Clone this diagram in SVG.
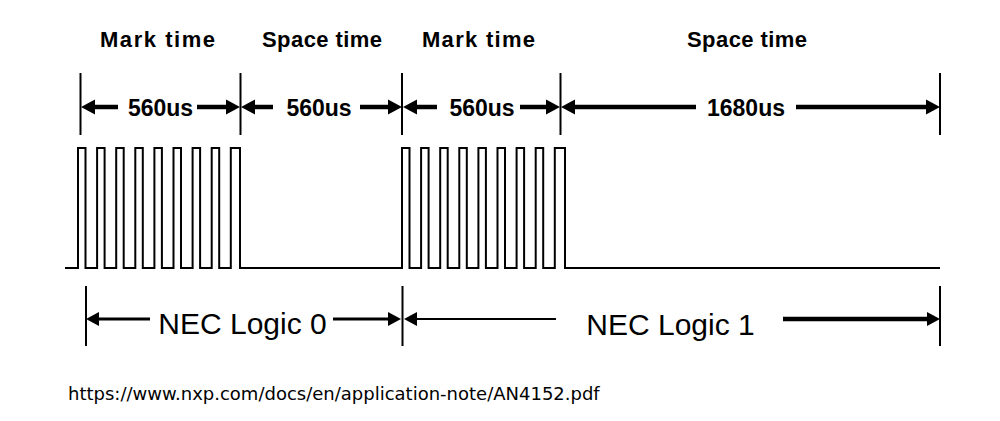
<svg xmlns="http://www.w3.org/2000/svg" width="1000" height="421" viewBox="0 0 1000 421">
<defs>
<style>
.hdr{font-family:"Liberation Sans",Arial,sans-serif;font-weight:bold;font-size:22px;fill:#000;text-anchor:middle}
.dur{font-family:"Liberation Sans",Arial,sans-serif;font-weight:bold;font-size:23px;fill:#000;text-anchor:middle}
.nec{font-family:"Liberation Sans",Arial,sans-serif;font-size:30px;fill:#000;text-anchor:middle}
.url{font-family:"DejaVu Sans",sans-serif;font-size:18px;fill:#000}
.tick{stroke:#000;stroke-width:2;fill:none}
.wave{stroke:#000;stroke-width:2;fill:none;stroke-linejoin:miter}
.aT{stroke:#000;stroke-width:4.5;fill:none;marker-end:url(#ahT)}
.aB{stroke:#000;stroke-width:3;fill:none;marker-end:url(#ahB)}
</style>
<marker id="ahT" markerUnits="userSpaceOnUse" markerWidth="16" markerHeight="18" refX="0" refY="8" orient="auto">
<path d="M0,0.5 L14,8 L0,15.5 z" fill="#000"/>
</marker>
<marker id="ahB" markerUnits="userSpaceOnUse" markerWidth="15" markerHeight="16" refX="0" refY="7" orient="auto">
<path d="M0,0 L13,7 L0,14 z" fill="#000"/>
</marker>
</defs>
<rect width="1000" height="421" fill="#fff"/>

<g id="headers">
<text class="hdr" x="157.5" y="47" textLength="115" lengthAdjust="spacing">Mark time</text>
<text class="hdr" x="322" y="47" textLength="120" lengthAdjust="spacing">Space time</text>
<text class="hdr" x="478.5" y="47" textLength="113" lengthAdjust="spacing">Mark time</text>
<text class="hdr" x="747" y="47" textLength="120" lengthAdjust="spacing">Space time</text>
</g>

<g id="ticks-top">
<line class="tick" x1="80.5" y1="73" x2="80.5" y2="135"/>
<line class="tick" x1="240.5" y1="73" x2="240.5" y2="135"/>
<line class="tick" x1="402" y1="73" x2="402" y2="135"/>
<line class="tick" x1="560.5" y1="73" x2="560.5" y2="135"/>
<line class="tick" x1="940" y1="73" x2="940" y2="135"/>
</g>

<g id="durations">
<text class="dur" x="160.5" y="116">560us</text>
<text class="dur" x="319" y="116">560us</text>
<text class="dur" x="482" y="116">560us</text>
<text class="dur" x="746" y="116">1680us</text>
</g>

<g id="connectors">
<path class="aT" d="M118,107 H95"/>
<path class="aT" d="M197,107 H226"/>
<path class="aT" d="M273,107 H255"/>
<path class="aT" d="M360,107 H388"/>
<path class="aT" d="M437,107 H417"/>
<path class="aT" d="M520,107 H546"/>
<path class="aT" d="M696,107 H575"/>
<path class="aT" d="M796,107 H926"/>
<path class="aB" d="M150,319 H99"/>
<path class="aB" d="M333,319 H388"/>
<path class="aB" d="M556,319 H417" style="stroke-width:2"/>
<path class="aB" d="M783,319 H927" style="stroke-width:4.5"/>
</g>

<g id="waveform">
<path class="wave" d="M65,268 H78 V148 H85.5 V268 H97.1 V148 H104.6 V268 H116.2 V148 H123.7 V268 H135.3 V148 H142.8 V268 H154.4 V148 H161.9 V268 H173.5 V148 H181 V268 H192.6 V148 H200.1 V268 H211.7 V148 H219.2 V268 H230.8 V148 H240 V268 H402 V148 H409.5 V268 H421.1 V148 H428.6 V268 H440.2 V148 H447.7 V268 H459.3 V148 H466.8 V268 H478.4 V148 H485.9 V268 H497.5 V148 H505 V268 H516.6 V148 H524.1 V268 H535.7 V148 H543.2 V268 H554.8 V148 H565 V268 H940"/>
</g>

<g id="ticks-bottom">
<line class="tick" x1="86" y1="286" x2="86" y2="346"/>
<line class="tick" x1="402.5" y1="286" x2="402.5" y2="346"/>
<line class="tick" x1="940" y1="286" x2="940" y2="346"/>
</g>

<g id="nec0"><text class="nec" x="242.5" y="334">NEC Logic 0</text></g>
<g id="nec1"><text class="nec" x="670.5" y="335">NEC Logic 1</text></g>

<g id="source"><text class="url" x="68" y="400">https://www.nxp.com/docs/en/application-note/AN4152.pdf</text></g>
</svg>
